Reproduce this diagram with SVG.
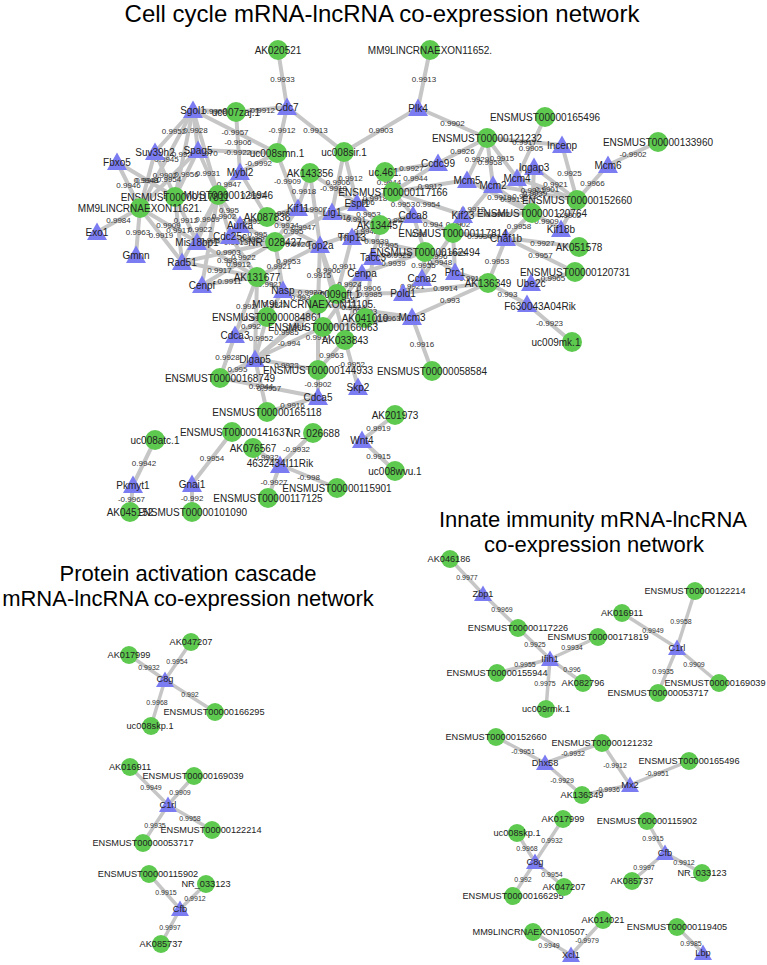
<svg xmlns="http://www.w3.org/2000/svg" xmlns:xlink="http://www.w3.org/1999/xlink" width="767" height="965" viewBox="0 0 767 965">
<style>
.bg{fill:#fff}
.e line{stroke:#c6c6c6;stroke-width:4;stroke-linecap:round}
.e2 line{stroke:#c6c6c6;stroke-width:3.5;stroke-linecap:round}
.el{font-family:"Liberation Sans",Arial,sans-serif;font-size:8px;fill:#333;text-anchor:middle}
.el2{font-family:"Liberation Sans",Arial,sans-serif;font-size:7px;fill:#333;text-anchor:middle}
.c{fill:#5dc94f}
.nl{font-family:"Liberation Sans",Arial,sans-serif;font-size:10px;fill:#222;text-anchor:middle}
.nl2{font-family:"Liberation Sans",Arial,sans-serif;font-size:9.2px;fill:#222;text-anchor:middle}
.title{font-family:"Liberation Sans",Arial,sans-serif;fill:#000;text-anchor:middle}
</style>
<defs>
<path id="T" d="M0,-9.5 L10,8 L-10,8 Z" fill="#7c7cf2"/>
<path id="T2" d="M0,-8.5 L9,7 L-9,7 Z" fill="#7c7cf2"/>
</defs>
<rect class="bg" width="767" height="965"/>
<text class="title" x="382" y="22" font-size="24">Cell cycle mRNA-lncRNA co-expression network</text>
<text class="title" x="188" y="581" font-size="22">Protein activation cascade</text>
<text class="title" x="188" y="606" font-size="22">mRNA-lncRNA co-expression network</text>
<text class="title" x="593" y="527" font-size="22">Innate immunity mRNA-lncRNA</text>
<text class="title" x="594" y="552" font-size="22">co-expression network</text>
<g id="connectors">
<g class="e">
<line x1="278" y1="50" x2="287" y2="107"/><line x1="287" y1="107" x2="277" y2="153"/><line x1="287" y1="107" x2="344" y2="152"/><line x1="236" y1="112" x2="287" y2="107"/><line x1="193" y1="110" x2="236" y2="112"/><line x1="418" y1="108" x2="430" y2="50"/><line x1="418" y1="108" x2="344" y2="152"/><line x1="418" y1="108" x2="487" y2="138"/><line x1="193" y1="110" x2="277" y2="153"/><line x1="236" y1="112" x2="240" y2="172"/><line x1="198" y1="150" x2="277" y2="153"/><line x1="277" y1="153" x2="240" y2="172"/><line x1="658" y1="142" x2="608" y2="165"/><line x1="545" y1="117" x2="517" y2="178"/><line x1="487" y1="138" x2="562" y2="145"/><line x1="562" y1="145" x2="577" y2="200"/><line x1="608" y1="165" x2="577" y2="200"/><line x1="534" y1="167" x2="577" y2="200"/><line x1="517" y1="178" x2="577" y2="200"/><line x1="493" y1="185" x2="577" y2="200"/><line x1="487" y1="138" x2="438" y2="163"/><line x1="487" y1="138" x2="467" y2="180"/><line x1="487" y1="138" x2="493" y2="185"/><line x1="487" y1="138" x2="517" y2="178"/><line x1="532" y1="213" x2="517" y2="178"/><line x1="532" y1="213" x2="493" y2="185"/><line x1="532" y1="213" x2="463" y2="215"/><line x1="532" y1="213" x2="506" y2="238"/><line x1="532" y1="213" x2="561" y2="229"/><line x1="577" y1="200" x2="561" y2="229"/><line x1="506" y1="238" x2="579" y2="247"/><line x1="506" y1="238" x2="575" y2="272"/><line x1="506" y1="238" x2="488" y2="283"/><line x1="531" y1="283" x2="575" y2="272"/><line x1="488" y1="283" x2="527" y2="304"/><line x1="488" y1="283" x2="455" y2="272"/><line x1="488" y1="283" x2="403" y2="293"/><line x1="488" y1="283" x2="412" y2="317"/><line x1="527" y1="304" x2="572" y2="342"/><line x1="412" y1="317" x2="432" y2="371"/><line x1="412" y1="317" x2="365" y2="318"/><line x1="412" y1="317" x2="323" y2="327"/><line x1="403" y1="293" x2="337" y2="294"/><line x1="318" y1="304" x2="412" y2="317"/><line x1="403" y1="293" x2="422" y2="278"/>
<line x1="155" y1="440" x2="133" y2="485"/><line x1="133" y1="485" x2="130" y2="512"/><line x1="232" y1="432" x2="192" y2="484"/><line x1="192" y1="484" x2="192" y2="512"/><line x1="313" y1="433" x2="280" y2="465"/><line x1="253" y1="448" x2="280" y2="465"/><line x1="280" y1="465" x2="337" y2="488"/><line x1="280" y1="465" x2="268" y2="498"/><line x1="395" y1="415" x2="362" y2="440"/><line x1="362" y1="440" x2="395" y2="471"/>
<line x1="267" y1="412" x2="318" y2="397"/><line x1="220" y1="378" x2="318" y2="397"/><line x1="220" y1="378" x2="255" y2="359"/><line x1="220" y1="378" x2="235" y2="335"/><line x1="267" y1="412" x2="255" y2="359"/><line x1="318" y1="370" x2="318" y2="397"/><line x1="345" y1="340" x2="358" y2="387"/><line x1="345" y1="340" x2="318" y2="370"/><line x1="318" y1="370" x2="255" y2="359"/><line x1="255" y1="359" x2="323" y2="327"/><line x1="255" y1="359" x2="267" y2="317"/><line x1="235" y1="335" x2="267" y2="317"/><line x1="255" y1="359" x2="318" y2="304"/><line x1="318" y1="370" x2="318" y2="304"/><line x1="235" y1="335" x2="257" y2="277"/><line x1="255" y1="359" x2="257" y2="277"/><line x1="255" y1="359" x2="337" y2="294"/><line x1="345" y1="340" x2="320" y2="245"/><line x1="345" y1="340" x2="362" y2="273"/><line x1="323" y1="327" x2="362" y2="273"/><line x1="267" y1="317" x2="283" y2="290"/><line x1="318" y1="304" x2="283" y2="290"/><line x1="337" y1="294" x2="283" y2="290"/><line x1="365" y1="318" x2="373" y2="257"/><line x1="337" y1="294" x2="320" y2="245"/><line x1="337" y1="294" x2="362" y2="273"/><line x1="337" y1="294" x2="352" y2="237"/><line x1="318" y1="304" x2="320" y2="245"/>
<line x1="257" y1="277" x2="283" y2="290"/><line x1="257" y1="277" x2="320" y2="245"/><line x1="257" y1="277" x2="202" y2="285"/><line x1="257" y1="277" x2="182" y2="262"/><line x1="257" y1="277" x2="197" y2="242"/><line x1="257" y1="277" x2="230" y2="236"/><line x1="275" y1="242" x2="320" y2="245"/><line x1="275" y1="242" x2="230" y2="236"/><line x1="275" y1="242" x2="240" y2="225"/><line x1="275" y1="242" x2="298" y2="208"/><line x1="275" y1="242" x2="197" y2="242"/><line x1="275" y1="242" x2="182" y2="262"/><line x1="275" y1="242" x2="202" y2="285"/><line x1="275" y1="242" x2="283" y2="290"/><line x1="275" y1="242" x2="332" y2="212"/><line x1="267" y1="217" x2="298" y2="208"/><line x1="267" y1="217" x2="240" y2="225"/><line x1="267" y1="217" x2="320" y2="245"/><line x1="267" y1="217" x2="240" y2="172"/><line x1="277" y1="153" x2="298" y2="208"/><line x1="310" y1="173" x2="298" y2="208"/><line x1="310" y1="173" x2="357" y2="203"/><line x1="310" y1="173" x2="320" y2="245"/><line x1="344" y1="152" x2="357" y2="203"/><line x1="344" y1="152" x2="332" y2="212"/>
<line x1="385" y1="172" x2="393" y2="192"/><line x1="385" y1="172" x2="438" y2="163"/><line x1="393" y1="192" x2="438" y2="163"/><line x1="393" y1="192" x2="467" y2="180"/><line x1="393" y1="192" x2="357" y2="203"/><line x1="393" y1="192" x2="413" y2="215"/><line x1="393" y1="192" x2="332" y2="212"/><line x1="393" y1="192" x2="463" y2="215"/><line x1="380" y1="225" x2="357" y2="203"/><line x1="380" y1="225" x2="332" y2="212"/><line x1="380" y1="225" x2="352" y2="237"/><line x1="380" y1="225" x2="413" y2="215"/><line x1="380" y1="225" x2="373" y2="257"/><line x1="380" y1="225" x2="320" y2="245"/><line x1="380" y1="225" x2="298" y2="208"/>
<line x1="453" y1="233" x2="463" y2="215"/><line x1="453" y1="233" x2="413" y2="215"/><line x1="453" y1="233" x2="506" y2="238"/><line x1="453" y1="233" x2="455" y2="272"/><line x1="453" y1="233" x2="493" y2="185"/><line x1="453" y1="233" x2="422" y2="278"/><line x1="425" y1="252" x2="373" y2="257"/><line x1="425" y1="252" x2="422" y2="278"/><line x1="425" y1="252" x2="352" y2="237"/><line x1="425" y1="252" x2="413" y2="215"/><line x1="425" y1="252" x2="455" y2="272"/><line x1="425" y1="252" x2="362" y2="273"/><line x1="532" y1="213" x2="467" y2="180"/><line x1="532" y1="213" x2="534" y2="167"/>
<line x1="193" y1="110" x2="198" y2="150"/><line x1="193" y1="110" x2="155" y2="152"/><line x1="193" y1="110" x2="140" y2="208"/><line x1="193" y1="110" x2="218" y2="195"/><line x1="193" y1="110" x2="175" y2="197"/><line x1="198" y1="150" x2="218" y2="195"/><line x1="198" y1="150" x2="175" y2="197"/><line x1="198" y1="150" x2="140" y2="208"/><line x1="155" y1="152" x2="140" y2="208"/><line x1="155" y1="152" x2="175" y2="197"/><line x1="117" y1="162" x2="140" y2="208"/><line x1="117" y1="162" x2="175" y2="197"/><line x1="97" y1="232" x2="140" y2="208"/><line x1="136" y1="255" x2="140" y2="208"/><line x1="182" y1="262" x2="140" y2="208"/><line x1="197" y1="242" x2="140" y2="208"/><line x1="197" y1="242" x2="175" y2="197"/><line x1="197" y1="242" x2="218" y2="195"/><line x1="182" y1="262" x2="218" y2="195"/><line x1="182" y1="262" x2="175" y2="197"/><line x1="202" y1="285" x2="218" y2="195"/><line x1="218" y1="195" x2="240" y2="172"/><line x1="218" y1="195" x2="240" y2="225"/><line x1="218" y1="195" x2="230" y2="236"/>
</g>
<g class="e2">
<line x1="129" y1="655" x2="165" y2="680"/><line x1="191" y1="642" x2="165" y2="680"/><line x1="165" y1="680" x2="215" y2="712"/><line x1="165" y1="680" x2="151" y2="726"/>
<line x1="130" y1="767" x2="168" y2="805"/><line x1="194" y1="776" x2="168" y2="805"/><line x1="168" y1="805" x2="212" y2="830"/><line x1="168" y1="805" x2="143" y2="843"/>
<line x1="149" y1="874" x2="180" y2="909"/><line x1="206" y1="884" x2="180" y2="909"/><line x1="180" y1="909" x2="161" y2="944"/>
<line x1="450" y1="559" x2="483" y2="594"/><line x1="483" y1="594" x2="518" y2="628"/><line x1="518" y1="628" x2="550" y2="659"/><line x1="598" y1="637" x2="550" y2="659"/><line x1="497" y1="673" x2="550" y2="659"/><line x1="583" y1="683" x2="550" y2="659"/><line x1="546" y1="709" x2="550" y2="659"/>
<line x1="695" y1="591" x2="677" y2="648"/><line x1="622" y1="613" x2="677" y2="648"/><line x1="658" y1="693" x2="677" y2="648"/><line x1="719" y1="683" x2="677" y2="648"/>
<line x1="496" y1="737" x2="545" y2="763"/><line x1="602" y1="743" x2="545" y2="763"/><line x1="602" y1="743" x2="630" y2="785"/><line x1="689" y1="761" x2="630" y2="785"/><line x1="545" y1="763" x2="582" y2="795"/><line x1="582" y1="795" x2="630" y2="785"/>
<line x1="563" y1="819" x2="535" y2="862"/><line x1="517" y1="833" x2="535" y2="862"/><line x1="513" y1="896" x2="535" y2="862"/><line x1="564" y1="887" x2="535" y2="862"/>
<line x1="647" y1="821" x2="665" y2="853"/><line x1="632" y1="881" x2="665" y2="853"/><line x1="702" y1="873" x2="665" y2="853"/>
<line x1="603" y1="920" x2="571" y2="955"/><line x1="533" y1="932" x2="571" y2="955"/><line x1="677" y1="927" x2="703" y2="953"/>
</g>
<g class="el">
<text x="282.5" y="81.5">0.9933</text><text x="282" y="133">-0.9912</text><text x="315.5" y="132.5">0.9913</text><text x="261.5" y="112.5">-0.9912</text><text x="214.5" y="114">0.9908</text><text x="424" y="82">0.9913</text><text x="381" y="133">0.9903</text><text x="452.5" y="126">0.9902</text><text x="235" y="134.5">-0.9957</text><text x="238" y="145">-0.9906</text><text x="237.5" y="154.5">-0.9922</text><text x="258.5" y="165.5">-0.9992</text><text x="633" y="156.5">-0.9902</text><text x="531" y="150.5">0.9905</text><text x="524.5" y="144.5">0.9917</text><text x="569.5" y="175.5">0.9925</text><text x="592.5" y="185.5">0.9966</text><text x="555.5" y="186.5">0.9921</text><text x="547" y="192">0.9901</text><text x="535" y="195.5">0.9939</text><text x="462.5" y="153.5">0.9926</text><text x="477" y="162">0.9929</text><text x="490" y="164.5">0.9958</text><text x="502" y="161">0.9915</text><text x="524.5" y="198.5">0.9913</text><text x="512.5" y="202">0.9913</text><text x="497.5" y="217">0.9902</text><text x="519" y="228.5">0.9958</text><text x="546.5" y="224">0.9909</text><text x="569" y="217.5">0.9902</text><text x="542.5" y="245.5">0.9927</text><text x="540.5" y="258">0.9957</text><text x="497" y="263.5">0.9953</text><text x="553" y="280.5">0.9965</text><text x="507.5" y="296.5">0.993</text><text x="471.5" y="280.5">0.9919</text><text x="445.5" y="291">0.9914</text><text x="450" y="303">0.993</text><text x="549.5" y="326">-0.9923</text><text x="422" y="347">0.9916</text><text x="388.5" y="320.5">0.9963</text><text x="367.5" y="325">0.994</text><text x="370" y="296.5">0.9985</text><text x="365" y="313.5">0.9993</text><text x="412.5" y="288.5">0.9921</text>
<text x="144" y="465.5">0.9942</text><text x="131.5" y="501.5">-0.9967</text><text x="212" y="461">0.9954</text><text x="192" y="501">-0.992</text><text x="296.5" y="452">-0.9932</text><text x="266.5" y="459.5">0.9932</text><text x="308.5" y="479.5">-0.998</text><text x="274" y="484.5">-0.9927</text><text x="378.5" y="430.5">0.9919</text><text x="378.5" y="458.5">0.9915</text>
<text x="292.5" y="407.5">0.9916</text><text x="269" y="390.5">0.9957</text><text x="237.5" y="371.5">0.995</text><text x="227.5" y="359.5">0.9928</text><text x="261" y="388.5">0.9944</text><text x="318" y="386.5">-0.9902</text><text x="351.5" y="366.5">-0.9952</text><text x="331.5" y="358">0.9963</text><text x="286.5" y="367.5">0.9922</text><text x="289" y="346">-0.994</text><text x="261" y="341">0.9952</text><text x="251" y="329">0.992</text><text x="286.5" y="334.5">0.9985</text><text x="318" y="340">0.9917</text><text x="246" y="309">0.992</text><text x="256" y="321">0.9935</text><text x="296" y="329.5">0.995</text><text x="332.5" y="295.5">0.9906</text><text x="353.5" y="309.5">0.9924</text><text x="342.5" y="303">0.9935</text><text x="275" y="306.5">0.9921</text><text x="300.5" y="300">0.993</text><text x="310" y="295">0.9933</text><text x="369" y="290.5">0.9906</text><text x="328.5" y="272.5">0.9906</text><text x="349.5" y="286.5">0.9924</text><text x="344.5" y="268.5">0.9911</text><text x="319" y="277.5">0.9915</text>
<text x="270" y="286.5">0.9921</text><text x="288.5" y="264">0.9953</text><text x="229.5" y="284">0.9911</text><text x="219.5" y="272.5">0.9917</text><text x="227" y="262.5">0.993</text><text x="243.5" y="259.5">0.9922</text><text x="297.5" y="246.5">0.9920</text><text x="252.5" y="242">0.9922</text><text x="257.5" y="236.5">0.995</text><text x="286.5" y="228">0.9934</text><text x="236" y="245">0.9913</text><text x="228.5" y="255">0.9903</text><text x="238.5" y="266.5">0.9912</text><text x="279" y="269">0.9921</text><text x="303.5" y="230">0.9947</text><text x="282.5" y="215.5">0.9951</text><text x="253.5" y="224">0.9954</text><text x="293.5" y="234">0.995</text><text x="253.5" y="197.5">0.9952</text><text x="287.5" y="183.5">-0.9909</text><text x="304" y="193.5">0.9918</text><text x="333.5" y="191">-0.9918</text><text x="315" y="212">0.9907</text><text x="350.5" y="180.5">0.9912</text><text x="338" y="185">0.9906</text>
<text x="389" y="185">0.9944</text><text x="411.5" y="170.5">0.9927</text><text x="415.5" y="180.5">0.9944</text><text x="430" y="189">0.9912</text><text x="375" y="200.5">0.9918</text><text x="403" y="206.5">0.9953</text><text x="362.5" y="205">0.9906</text><text x="428" y="206.5">0.9954</text><text x="368.5" y="217">0.9953</text><text x="356" y="221.5">0.991</text><text x="366" y="234">0.9942</text><text x="396.5" y="223">0.994</text><text x="376.5" y="244">0.9939</text><text x="350" y="238">0.9922</text><text x="339" y="219.5">0.9916</text>
<text x="458" y="227">0.9902</text><text x="433" y="227">0.994</text><text x="479.5" y="238.5">0.9934</text><text x="454" y="255.5">0.9965</text><text x="473" y="212">0.9912</text><text x="437.5" y="258.5">0.996</text><text x="399" y="257.5">0.9925</text><text x="423.5" y="268">0.9955</text><text x="388.5" y="247.5">0.995</text><text x="419" y="236.5">0.99</text><text x="440" y="265">0.9948</text><text x="393.5" y="265.5">0.9939</text><text x="499.5" y="199.5">0.9919</text><text x="533" y="193">0.9901</text>
<text x="195.5" y="133">0.9928</text><text x="174" y="134">0.9952</text><text x="166.5" y="162">0.9945</text><text x="205.5" y="155.5">0.9970</text><text x="184" y="156.5">0.9923</text><text x="208" y="175.5">0.9931</text><text x="186.5" y="176.5">0.9956</text><text x="169" y="182">0.9954</text><text x="147.5" y="183">0.9941</text><text x="165" y="177.5">0.9902</text><text x="128.5" y="188">0.9946</text><text x="146" y="182.5">0.9948</text><text x="118.5" y="223">0.9984</text><text x="138" y="234.5">0.9963</text><text x="161" y="238">0.9919</text><text x="168.5" y="228">0.9909</text><text x="186" y="222.5">0.9912</text><text x="207.5" y="221.5">0.9969</text><text x="200" y="231.5">0.9922</text><text x="178.5" y="232.5">0.9917</text><text x="210" y="243">0.993</text><text x="229" y="186.5">0.9947</text><text x="229" y="213">0.995</text><text x="224" y="218.5">0.9902</text>
</g>
<g class="el2">
<text x="149" y="669.5">0.9932</text><text x="177" y="663.5">0.9954</text><text x="190" y="696.5">0.992</text><text x="157" y="704.5">0.9968</text>
<text x="151" y="789.5">0.9949</text><text x="180" y="794.5">0.9909</text><text x="190" y="820.5">0.9958</text><text x="155" y="827.5">0.9935</text>
<text x="166" y="894.5">0.9915</text><text x="195" y="900.5">0.9912</text><text x="170" y="929.5">0.9997</text>
<text x="467" y="579.5">0.9977</text><text x="502" y="611.5">0.9969</text><text x="535" y="646.5">0.9925</text><text x="572" y="649.5">0.9934</text><text x="525" y="666.5">0.9955</text><text x="572" y="671.5">0.996</text><text x="545" y="685.5">0.9975</text>
<text x="681" y="623.5">0.9958</text><text x="653" y="632.5">0.9949</text><text x="663" y="673.5">0.9935</text><text x="694" y="666.5">0.9909</text>
<text x="523" y="753.5">-0.9951</text><text x="573" y="755.5">-0.9932</text><text x="615" y="767.5">-0.9912</text><text x="657" y="775.5">-0.9951</text><text x="562" y="782.5">-0.9929</text><text x="608" y="791.5">-0.9936</text>
<text x="552" y="842.5">0.9932</text><text x="527" y="850.5">0.9968</text><text x="523" y="881.5">0.992</text><text x="552" y="876.5">0.9954</text>
<text x="653" y="840.5">0.9915</text><text x="644" y="869.5">0.9997</text><text x="684" y="864.5">0.9912</text>
<text x="587" y="942.5">-0.9979</text><text x="549" y="947.5">0.9949</text><text x="691" y="945.5">0.9985</text>
</g>
</g>
<g id="n_AK020521"><circle class="c" cx="278" cy="50" r="10"/><text class="nl" x="278" y="53.5">AK020521</text></g>
<g id="n_MM9LINCRNAEXON11652"><circle class="c" cx="430" cy="50" r="10"/><text class="nl" x="430" y="53.5">MM9LINCRNAEXON11652.</text></g>
<g id="n_Cdc7"><use href="#T" x="287" y="107"/><text class="nl" x="287" y="110.5">Cdc7</text></g>
<g id="n_uc007zaj1"><circle class="c" cx="236" cy="112" r="10"/><text class="nl" x="236" y="115.5">uc007zaj.1</text></g>
<g id="n_Sgol1"><use href="#T" x="193" y="110"/><text class="nl" x="193" y="113.5">Sgol1</text></g>
<g id="n_Plk4"><use href="#T" x="418" y="108"/><text class="nl" x="418" y="111.5">Plk4</text></g>
<g id="n_uc008sir1"><circle class="c" cx="344" cy="152" r="10"/><text class="nl" x="344" y="155.5">uc008sir.1</text></g>
<g id="n_uc008smn1"><circle class="c" cx="277" cy="153" r="10"/><text class="nl" x="277" y="156.5">uc008smn.1</text></g>
<g id="n_Spag5"><use href="#T" x="198" y="150"/><text class="nl" x="198" y="153.5">Spag5</text></g>
<g id="n_Suv39h2"><use href="#T" x="155" y="152"/><text class="nl" x="155" y="155.5">Suv39h2</text></g>
<g id="n_Fbxo5"><use href="#T" x="117" y="162"/><text class="nl" x="117" y="165.5">Fbxo5</text></g>
<g id="n_E121232"><circle class="c" cx="487" cy="138" r="10"/><text class="nl" x="487" y="141.5">ENSMUST00000121232</text></g>
<g id="n_E165496"><circle class="c" cx="545" cy="117" r="10"/><text class="nl" x="545" y="120.5">ENSMUST00000165496</text></g>
<g id="n_E133960"><circle class="c" cx="658" cy="142" r="10"/><text class="nl" x="658" y="145.5">ENSMUST00000133960</text></g>
<g id="n_Incenp"><use href="#T" x="562" y="145"/><text class="nl" x="562" y="148.5">Incenp</text></g>
<g id="n_Mcm6"><use href="#T" x="608" y="165"/><text class="nl" x="608" y="168.5">Mcm6</text></g>
<g id="n_Iqgap3"><use href="#T" x="534" y="167"/><text class="nl" x="534" y="170.5">Iqgap3</text></g>
<g id="n_E152660"><circle class="c" cx="577" cy="200" r="10"/><text class="nl" x="577" y="203.5">ENSMUST00000152660</text></g>
<g id="n_E120764"><circle class="c" cx="532" cy="213" r="10"/><text class="nl" x="532" y="216.5">ENSMUST00000120764</text></g>
<g id="n_Kif18b"><use href="#T" x="561" y="229"/><text class="nl" x="561" y="232.5">Kif18b</text></g>
<g id="n_AK051578"><circle class="c" cx="579" cy="247" r="10"/><text class="nl" x="579" y="250.5">AK051578</text></g>
<g id="n_E120731"><circle class="c" cx="575" cy="272" r="10"/><text class="nl" x="575" y="275.5">ENSMUST00000120731</text></g>
<g id="n_Ube2c"><use href="#T" x="531" y="283"/><text class="nl" x="531" y="286.5">Ube2c</text></g>
<g id="n_AK136349"><circle class="c" cx="488" cy="283" r="10"/><text class="nl" x="488" y="286.5">AK136349</text></g>
<g id="n_F630043A04Rik"><use href="#T" x="527" y="304"/><text class="nl" x="540" y="310">F630043A04Rik</text></g>
<g id="n_uc009mk1"><circle class="c" cx="572" cy="342" r="10"/><text class="nl" x="556" y="345.5">uc009mk.1</text></g>
<g id="n_Chaf1b"><use href="#T" x="506" y="238"/><text class="nl" x="506" y="241.5">Chaf1b</text></g>
<g id="n_Prc1"><use href="#T" x="455" y="272"/><text class="nl" x="455" y="275.5">Prc1</text></g>
<g id="n_Mcm5"><use href="#T" x="467" y="180"/><text class="nl" x="467" y="183.5">Mcm5</text></g>
<g id="n_Mcm2"><use href="#T" x="493" y="185"/><text class="nl" x="493" y="188.5">Mcm2</text></g>
<g id="n_Mcm4"><use href="#T" x="517" y="178"/><text class="nl" x="517" y="181.5">Mcm4</text></g>
<g id="n_Ccdc99"><use href="#T" x="438" y="163"/><text class="nl" x="438" y="166.5">Ccdc99</text></g>
<g id="n_Kif23"><use href="#T" x="463" y="215"/><text class="nl" x="463" y="218.5">Kif23</text></g>
<g id="n_E117166"><circle class="c" cx="393" cy="192" r="10"/><text class="nl" x="393" y="195.5">ENSMUST00000117166</text></g>
<g id="n_uc461"><circle class="c" cx="385" cy="172" r="10"/><text class="nl" x="385" y="175.5">uc.461.</text></g>
<g id="n_AK143356"><circle class="c" cx="310" cy="173" r="10"/><text class="nl" x="310" y="176.5">AK143356</text></g>
<g id="n_Espl1"><use href="#T" x="357" y="203"/><text class="nl" x="357" y="206.5">Espl1</text></g>
<g id="n_Lig1"><use href="#T" x="332" y="212"/><text class="nl" x="332" y="215.5">Lig1</text></g>
<g id="n_Kif11"><use href="#T" x="298" y="208"/><text class="nl" x="298" y="211.5">Kif11</text></g>
<g id="n_AK087836"><circle class="c" cx="267" cy="217" r="10"/><text class="nl" x="267" y="220.5">AK087836</text></g>
<g id="n_Aurka"><use href="#T" x="240" y="225"/><text class="nl" x="240" y="228.5">Aurka</text></g>
<g id="n_Cdc25c"><use href="#T" x="230" y="236"/><text class="nl" x="230" y="239.5">Cdc25c</text></g>
<g id="n_Mybl2"><use href="#T" x="240" y="172"/><text class="nl" x="240" y="175.5">Mybl2</text></g>
<g id="n_E121946"><circle class="c" cx="218" cy="195" r="10"/><text class="nl" x="218" y="198.5">ENSMUST00000121946</text></g>
<g id="n_E117811"><circle class="c" cx="175" cy="197" r="10"/><text class="nl" x="175" y="200.5">ENSMUST00000117811</text></g>
<g id="n_MM9LINCRNAEXON11621"><circle class="c" cx="140" cy="208" r="10"/><text class="nl" x="140" y="211.5">MM9LINCRNAEXON11621.</text></g>
<g id="n_Exo1"><use href="#T" x="97" y="232"/><text class="nl" x="97" y="235.5">Exo1</text></g>
<g id="n_Gmnn"><use href="#T" x="136" y="255"/><text class="nl" x="136" y="258.5">Gmnn</text></g>
<g id="n_Rad51"><use href="#T" x="182" y="262"/><text class="nl" x="182" y="265.5">Rad51</text></g>
<g id="n_Mis18bp1"><use href="#T" x="197" y="242"/><text class="nl" x="197" y="245.5">Mis18bp1</text></g>
<g id="n_Cenpf"><use href="#T" x="202" y="285"/><text class="nl" x="202" y="288.5">Cenpf</text></g>
<g id="n_AK131677"><circle class="c" cx="257" cy="277" r="10"/><text class="nl" x="257" y="280.5">AK131677</text></g>
<g id="n_NR_028427"><circle class="c" cx="275" cy="242" r="10"/><text class="nl" x="275" y="245.5">NR_028427</text></g>
<g id="n_Top2a"><use href="#T" x="320" y="245"/><text class="nl" x="320" y="248.5">Top2a</text></g>
<g id="n_Nasp"><use href="#T" x="283" y="290"/><text class="nl" x="283" y="293.5">Nasp</text></g>
<g id="n_Trip13"><use href="#T" x="352" y="237"/><text class="nl" x="352" y="240.5">Trip13</text></g>
<g id="n_AK134457"><circle class="c" cx="380" cy="225" r="10"/><text class="nl" x="380" y="228.5">AK134457</text></g>
<g id="n_Cdca8"><use href="#T" x="413" y="215"/><text class="nl" x="413" y="218.5">Cdca8</text></g>
<g id="n_Tacc3"><use href="#T" x="373" y="257"/><text class="nl" x="373" y="260.5">Tacc3</text></g>
<g id="n_E162494"><circle class="c" cx="425" cy="252" r="10"/><text class="nl" x="425" y="255.5">ENSMUST00000162494</text></g>
<g id="n_E117814"><circle class="c" cx="453" cy="233" r="10"/><text class="nl" x="453" y="236.5">ENSMUST00000117814</text></g>
<g id="n_Cenpa"><use href="#T" x="362" y="273"/><text class="nl" x="362" y="276.5">Cenpa</text></g>
<g id="n_Ccna2"><use href="#T" x="422" y="278"/><text class="nl" x="422" y="281.5">Ccna2</text></g>
<g id="n_Pold1"><use href="#T" x="403" y="293"/><text class="nl" x="403" y="296.5">Pold1</text></g>
<g id="n_uc009gft1"><circle class="c" cx="337" cy="294" r="10"/><text class="nl" x="337" y="297.5">uc009gft.1</text></g>
<g id="n_Mcm3"><use href="#T" x="412" y="317"/><text class="nl" x="412" y="320.5">Mcm3</text></g>
<g id="n_MM9LINCRNAEXON11105"><circle class="c" cx="318" cy="304" r="10"/><text class="nl" x="314" y="307.5">MM9LINCRNAEXON11105.</text></g>
<g id="n_AK041010"><circle class="c" cx="365" cy="318" r="10"/><text class="nl" x="365" y="321.5">AK041010</text></g>
<g id="n_E084861"><circle class="c" cx="267" cy="317" r="10"/><text class="nl" x="267" y="320.5">ENSMUST00000084861</text></g>
<g id="n_E166063"><circle class="c" cx="323" cy="327" r="10"/><text class="nl" x="323" y="330.5">ENSMUST00000166063</text></g>
<g id="n_AK033843"><circle class="c" cx="345" cy="340" r="10"/><text class="nl" x="345" y="343.5">AK033843</text></g>
<g id="n_Cdca3"><use href="#T" x="235" y="335"/><text class="nl" x="235" y="338.5">Cdca3</text></g>
<g id="n_Dlgap5"><use href="#T" x="255" y="359"/><text class="nl" x="255" y="362.5">Dlgap5</text></g>
<g id="n_E168749"><circle class="c" cx="220" cy="378" r="10"/><text class="nl" x="220" y="381.5">ENSMUST00000168749</text></g>
<g id="n_E144933"><circle class="c" cx="318" cy="370" r="10"/><text class="nl" x="318" y="373.5">ENSMUST00000144933</text></g>
<g id="n_Skp2"><use href="#T" x="358" y="387"/><text class="nl" x="358" y="390.5">Skp2</text></g>
<g id="n_Cdca5"><use href="#T" x="318" y="397"/><text class="nl" x="318" y="400.5">Cdca5</text></g>
<g id="n_E165118"><circle class="c" cx="267" cy="412" r="10"/><text class="nl" x="267" y="415.5">ENSMUST00000165118</text></g>
<g id="n_E058584"><circle class="c" cx="432" cy="371" r="10"/><text class="nl" x="432" y="374.5">ENSMUST00000058584</text></g>
<g id="n_AK201973"><circle class="c" cx="395" cy="415" r="10"/><text class="nl" x="395" y="418.5">AK201973</text></g>
<g id="n_Wnt4"><use href="#T" x="362" y="440"/><text class="nl" x="362" y="443.5">Wnt4</text></g>
<g id="n_uc008wvu1"><circle class="c" cx="395" cy="471" r="10"/><text class="nl" x="395" y="474.5">uc008wvu.1</text></g>
<g id="n_NR_026688"><circle class="c" cx="313" cy="433" r="10"/><text class="nl" x="313" y="436.5">NR_026688</text></g>
<g id="n_AK076567"><circle class="c" cx="253" cy="448" r="10"/><text class="nl" x="253" y="451.5">AK076567</text></g>
<g id="n_E141637"><circle class="c" cx="232" cy="432" r="10"/><text class="nl" x="235" y="435.5">ENSMUST00000141637</text></g>
<g id="n_4632434I11Rik"><use href="#T" x="280" y="465"/><text class="nl" x="280" y="466.5">4632434I11Rik</text></g>
<g id="n_E115901"><circle class="c" cx="337" cy="488" r="10"/><text class="nl" x="337" y="491.5">ENSMUST00000115901</text></g>
<g id="n_E117125"><circle class="c" cx="268" cy="498" r="10"/><text class="nl" x="268" y="501.5">ENSMUST00000117125</text></g>
<g id="n_Gnai1"><use href="#T" x="192" y="484"/><text class="nl" x="192" y="487.5">Gnai1</text></g>
<g id="n_E101090"><circle class="c" cx="192" cy="512" r="10"/><text class="nl" x="192" y="515.5">ENSMUST00000101090</text></g>
<g id="n_uc008atc1"><circle class="c" cx="155" cy="440" r="10"/><text class="nl" x="155" y="443.5">uc008atc.1</text></g>
<g id="n_Pkmyt1"><use href="#T" x="133" y="485"/><text class="nl" x="133" y="488.5">Pkmyt1</text></g>
<g id="n_AK045152"><circle class="c" cx="130" cy="512" r="10"/><text class="nl" x="130" y="515.5">AK045152</text></g>
<g id="p_AK047207"><circle class="c" cx="191" cy="642" r="9"/><text class="nl2" x="191" y="645">AK047207</text></g>
<g id="p_AK017999"><circle class="c" cx="129" cy="655" r="9"/><text class="nl2" x="129" y="658">AK017999</text></g>
<g id="p_C8g"><use href="#T2" x="165" y="680"/><text class="nl2" x="165" y="682">C8g</text></g>
<g id="p_E166295"><circle class="c" cx="215" cy="712" r="9"/><text class="nl2" x="214" y="715">ENSMUST00000166295</text></g>
<g id="p_uc008skp1"><circle class="c" cx="151" cy="726" r="9"/><text class="nl2" x="150" y="729">uc008skp.1</text></g>
<g id="p_AK016911"><circle class="c" cx="130" cy="767" r="9"/><text class="nl2" x="130" y="770">AK016911</text></g>
<g id="p_E169039"><circle class="c" cx="194" cy="776" r="9"/><text class="nl2" x="193" y="779">ENSMUST00000169039</text></g>
<g id="p_C1rl"><use href="#T2" x="168" y="805"/><text class="nl2" x="168" y="808">C1rl</text></g>
<g id="p_E122214"><circle class="c" cx="212" cy="830" r="9"/><text class="nl2" x="211" y="833">ENSMUST00000122214</text></g>
<g id="p_E053717"><circle class="c" cx="143" cy="843" r="9"/><text class="nl2" x="143" y="846">ENSMUST00000053717</text></g>
<g id="p_E115902"><circle class="c" cx="149" cy="874" r="9"/><text class="nl2" x="148" y="877">ENSMUST00000115902</text></g>
<g id="p_NR_033123"><circle class="c" cx="206" cy="884" r="9"/><text class="nl2" x="206" y="887">NR_033123</text></g>
<g id="p_Cfb"><use href="#T2" x="180" y="909"/><text class="nl2" x="180" y="912">Cfb</text></g>
<g id="p_AK085737"><circle class="c" cx="161" cy="944" r="9"/><text class="nl2" x="161" y="947">AK085737</text></g>
<g id="i_AK046186"><circle class="c" cx="450" cy="559" r="9"/><text class="nl2" x="449" y="562">AK046186</text></g>
<g id="i_Zbp1"><use href="#T2" x="483" y="594"/><text class="nl2" x="483" y="597">Zbp1</text></g>
<g id="i_E117226"><circle class="c" cx="518" cy="628" r="9"/><text class="nl2" x="518" y="631">ENSMUST00000117226</text></g>
<g id="i_E171819"><circle class="c" cx="598" cy="637" r="9"/><text class="nl2" x="598" y="640">ENSMUST00000171819</text></g>
<g id="i_Ifih1"><use href="#T2" x="550" y="659"/><text class="nl2" x="550" y="662">Ifih1</text></g>
<g id="i_E155944"><circle class="c" cx="497" cy="673" r="9"/><text class="nl2" x="497" y="676">ENSMUST00000155944</text></g>
<g id="i_AK082796"><circle class="c" cx="583" cy="683" r="9"/><text class="nl2" x="583" y="686">AK082796</text></g>
<g id="i_uc009rmk1"><circle class="c" cx="546" cy="709" r="9"/><text class="nl2" x="546" y="712">uc009rmk.1</text></g>
<g id="i_E122214"><circle class="c" cx="695" cy="591" r="9"/><text class="nl2" x="695" y="594">ENSMUST00000122214</text></g>
<g id="i_AK016911"><circle class="c" cx="622" cy="613" r="9"/><text class="nl2" x="622" y="616">AK016911</text></g>
<g id="i_C1rl"><use href="#T2" x="677" y="648"/><text class="nl2" x="677" y="651">C1rl</text></g>
<g id="i_E053717"><circle class="c" cx="658" cy="693" r="9"/><text class="nl2" x="658" y="696">ENSMUST00000053717</text></g>
<g id="i_E169039"><circle class="c" cx="719" cy="683" r="9"/><text class="nl2" x="715" y="686">ENSMUST00000169039</text></g>
<g id="i_E152660"><circle class="c" cx="496" cy="737" r="9"/><text class="nl2" x="496" y="740">ENSMUST00000152660</text></g>
<g id="i_E121232"><circle class="c" cx="602" cy="743" r="9"/><text class="nl2" x="602" y="746">ENSMUST00000121232</text></g>
<g id="i_Dhx58"><use href="#T2" x="545" y="763"/><text class="nl2" x="545" y="766">Dhx58</text></g>
<g id="i_E165496"><circle class="c" cx="689" cy="761" r="9"/><text class="nl2" x="689" y="764">ENSMUST00000165496</text></g>
<g id="i_Mx2"><use href="#T2" x="630" y="785"/><text class="nl2" x="630" y="788">Mx2</text></g>
<g id="i_AK136349"><circle class="c" cx="582" cy="795" r="9"/><text class="nl2" x="582" y="798">AK136349</text></g>
<g id="i_AK017999"><circle class="c" cx="563" cy="819" r="9"/><text class="nl2" x="563" y="822">AK017999</text></g>
<g id="i_uc008skp1"><circle class="c" cx="517" cy="833" r="9"/><text class="nl2" x="517" y="836">uc008skp.1</text></g>
<g id="i_C8g"><use href="#T2" x="535" y="862"/><text class="nl2" x="535" y="865">C8g</text></g>
<g id="i_E166295"><circle class="c" cx="513" cy="896" r="9"/><text class="nl2" x="513" y="899">ENSMUST00000166295</text></g>
<g id="i_AK047207"><circle class="c" cx="564" cy="887" r="9"/><text class="nl2" x="564" y="890">AK047207</text></g>
<g id="i_E115902"><circle class="c" cx="647" cy="821" r="9"/><text class="nl2" x="647" y="824">ENSMUST00000115902</text></g>
<g id="i_Cfb"><use href="#T2" x="665" y="853"/><text class="nl2" x="665" y="856">Cfb</text></g>
<g id="i_AK085737"><circle class="c" cx="632" cy="881" r="9"/><text class="nl2" x="632" y="884">AK085737</text></g>
<g id="i_NR_033123"><circle class="c" cx="702" cy="873" r="9"/><text class="nl2" x="702" y="876">NR_033123</text></g>
<g id="i_AK014021"><circle class="c" cx="603" cy="920" r="9"/><text class="nl2" x="603" y="923">AK014021</text></g>
<g id="i_MM9LINCRNAEXON10507"><circle class="c" cx="533" cy="932" r="9"/><text class="nl2" x="530" y="935">MM9LINCRNAEXON10507.</text></g>
<g id="i_Xcl1"><use href="#T2" x="571" y="955"/><text class="nl2" x="571" y="958">Xcl1</text></g>
<g id="i_E119405"><circle class="c" cx="677" cy="927" r="9"/><text class="nl2" x="677" y="930">ENSMUST00000119405</text></g>
<g id="i_Lbp"><use href="#T2" x="703" y="953"/><text class="nl2" x="703" y="956">Lbp</text></g>
</svg>
